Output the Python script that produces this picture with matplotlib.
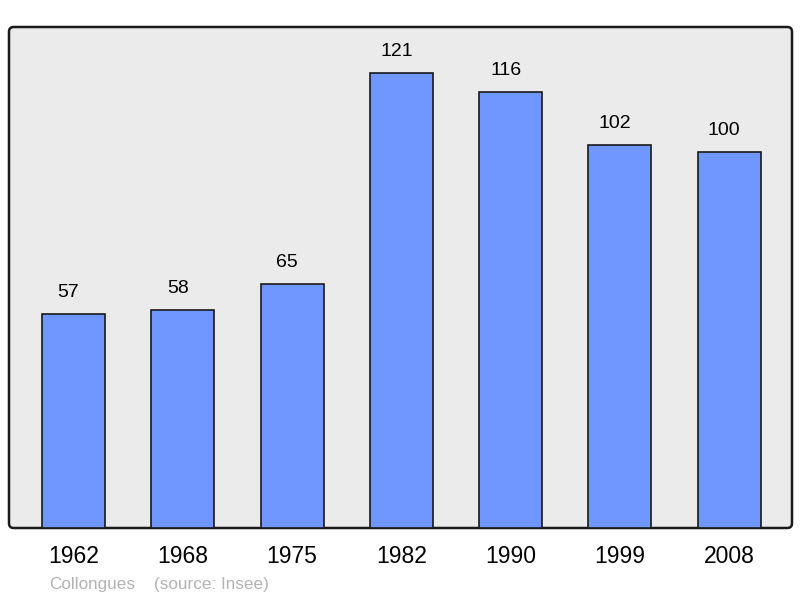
import matplotlib
matplotlib.use('Agg')
import matplotlib.pyplot as plt
from matplotlib.patches import FancyBboxPatch

plt.rcParams['font.family'] = ['Liberation Sans', 'DejaVu Sans']

years = ['1962', '1968', '1975', '1982', '1990', '1999', '2008']
population = [57, 58, 65, 121, 116, 102, 100]

BAR_COLOR = '#7096ff'
BG_COLOR = '#ebebeb'

fig = plt.figure(figsize=(8, 5.98), dpi=100)
ax = fig.add_axes([9 / 800, 70 / 598, 783 / 800, 501 / 598])
ax.set_xlim(-0.59, 6.574)
ax.set_ylim(0, 133.3)
ax.axis('off')

# background frame with rounded corners
frame = FancyBboxPatch((0, 0), 1, 1, boxstyle="round,pad=0,rounding_size=0.006",
                       mutation_aspect=783 / 501,
                       transform=ax.transAxes, facecolor=BG_COLOR,
                       edgecolor='#1a1a1a', linewidth=1.8, zorder=0, clip_on=False)
ax.add_patch(frame)

x = list(range(len(years)))
ax.bar(x, population, width=0.577, color=BAR_COLOR, edgecolor='#1a1a1a',
       linewidth=1.2, zorder=2)

# value labels sit a little left of the bar centre, as in the original
for xi, v in zip(x, population):
    ax.annotate(str(v), (xi, v), xytext=(-3.6, 15.5), textcoords='offset points',
                ha='center', va='center', fontsize=14, color='black', zorder=3)

for xi, yr in zip(x, years):
    ax.text(xi, -7.6, yr, ha='center', va='center', fontsize=16.5, color='black',
            clip_on=False)

fig.text(49 / 800, 1 - 584 / 598, 'Collongues', ha='left', va='center',
         fontsize=12.3, color='#b3b3b3')
fig.text(154 / 800, 1 - 584 / 598, '(source: Insee)', ha='left', va='center',
         fontsize=12.3, color='#b3b3b3')

fig.savefig('out.png', dpi=100, facecolor='white')
